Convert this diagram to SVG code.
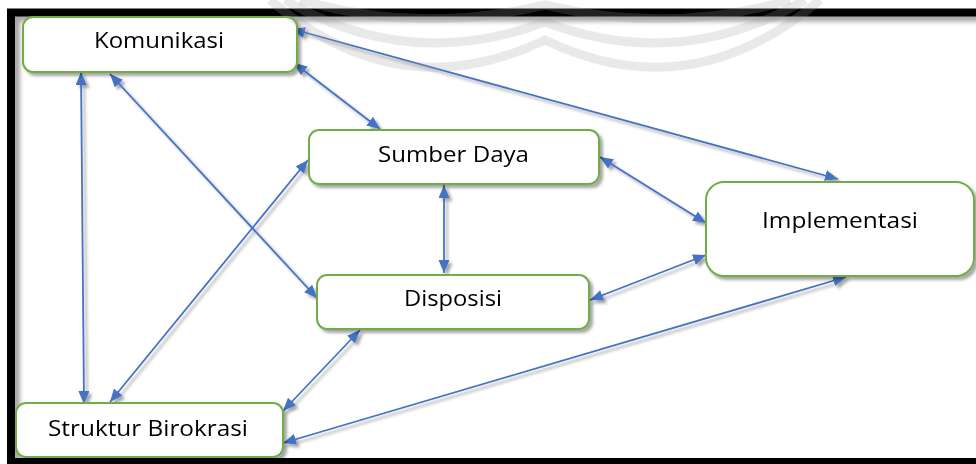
<svg xmlns="http://www.w3.org/2000/svg" width="976" height="464" viewBox="0 0 976 464">
<style>
.box{fill:#fff;stroke:#70AD47;stroke-width:2}
.lbl{font-family:"Open Sans","Noto Sans","Liberation Sans",sans-serif;font-size:22px;fill:#000}
.con{fill:none;stroke:#4472C4;stroke-width:1.8;marker-start:url(#ah);marker-end:url(#ah)}
.wm{fill:none;stroke:#999;stroke-width:9;opacity:0.22}
</style>
<defs>
<marker id="ah" markerUnits="userSpaceOnUse" markerWidth="14" markerHeight="12" refX="13" refY="5.5" orient="auto-start-reverse" viewBox="0 0 14 12">
<path d="M0,0 L13,5.5 L0,11 z" fill="#4472C4"/>
</marker>
<filter id="sh" x="-10%" y="-10%" width="130%" height="140%">
<feDropShadow dx="3" dy="3" stdDeviation="1.8" flood-color="#000" flood-opacity="0.35"/>
</filter>
<filter id="fsh" x="-5%" y="-5%" width="115%" height="115%">
<feDropShadow dx="5" dy="5" stdDeviation="2" flood-color="#000" flood-opacity="0.35"/>
</filter>
</defs>
<rect width="976" height="464" fill="#fff"/>
<g id="frame" filter="url(#fsh)">
<rect x="11" y="12.5" width="975" height="449.5" fill="none" stroke="#000" stroke-width="8"/>
</g>
<g id="connectors" filter="url(#sh)">
<path class="con" d="M292,29 L838,179"/>
<path class="con" d="M294,63 L380,129"/>
<path class="con" d="M110,74 L317,298"/>
<path class="con" d="M81,72 L84,404"/>
<path class="con" d="M308,160 L110,402"/>
<path class="con" d="M444,185 L444,273"/>
<path class="con" d="M600,157 L706,223"/>
<path class="con" d="M590,300 L706,255"/>
<path class="con" d="M360,330 L283,411"/>
<path class="con" d="M283,443 L846,277"/>
</g>
<g id="komunikasi" filter="url(#sh)">
<rect class="box" x="23" y="17" width="274" height="55" rx="10"/>
<text class="lbl" x="94" y="48" textLength="130" lengthAdjust="spacingAndGlyphs">Komunikasi</text>
</g>
<g id="sumber-daya" filter="url(#sh)">
<rect class="box" x="309" y="130" width="290" height="54" rx="10"/>
<text class="lbl" x="378" y="162" textLength="151" lengthAdjust="spacingAndGlyphs">Sumber Daya</text>
</g>
<g id="disposisi" filter="url(#sh)">
<rect class="box" x="317" y="275" width="272" height="54" rx="10"/>
<text class="lbl" x="404" y="306" textLength="98" lengthAdjust="spacingAndGlyphs">Disposisi</text>
</g>
<g id="implementasi" filter="url(#sh)">
<rect class="box" x="706" y="182" width="268" height="94" rx="18"/>
<text class="lbl" x="762" y="228" textLength="156" lengthAdjust="spacingAndGlyphs">Implementasi</text>
</g>
<g id="struktur-birokrasi" filter="url(#sh)">
<rect class="box" x="16" y="403" width="267" height="54" rx="10"/>
<text class="lbl" x="48" y="436" textLength="200" lengthAdjust="spacingAndGlyphs">Struktur Birokrasi</text>
</g>
<g id="watermark">
<path class="wm" d="M300,0 Q420,35 545,5 Q670,35 790,0"/>
<path class="wm" d="M285,0 Q410,73 545,22 Q680,73 805,0"/>
<path class="wm" d="M270,0 Q400,110 545,40 Q690,110 820,0"/>
</g>
</svg>
